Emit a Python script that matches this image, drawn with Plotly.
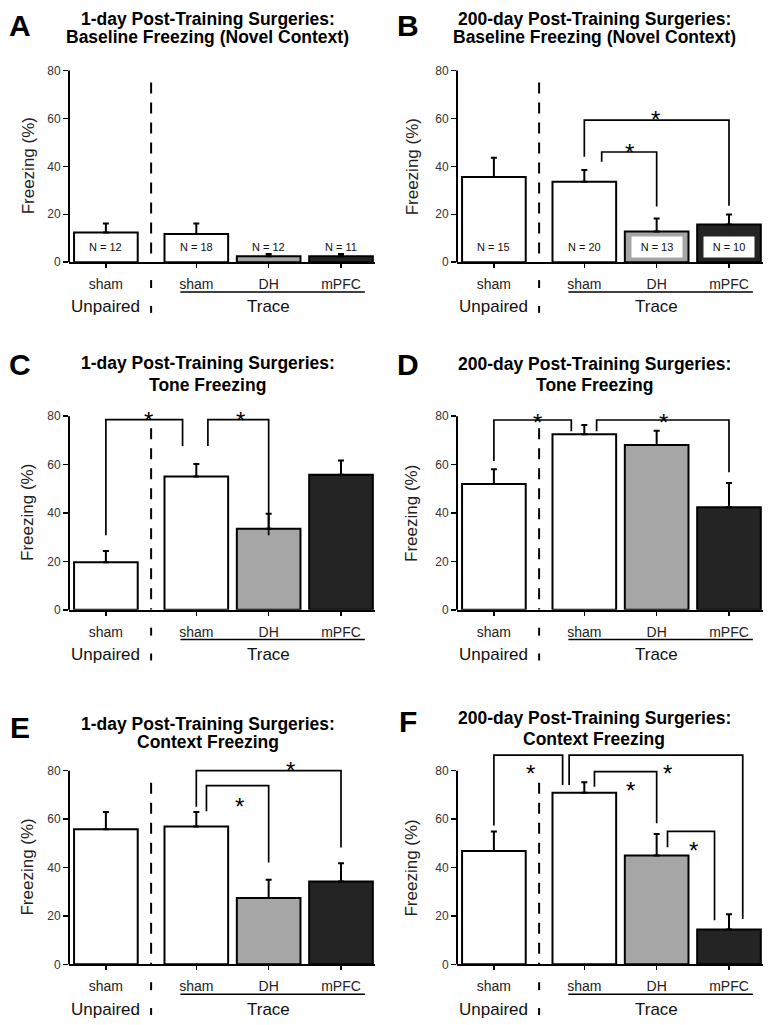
import plotly.graph_objects as go

# ---------------- data ----------------
groups = ["sham", "sham", "DH", "mPFC"]
xpos = [0, 1.25, 2.25, 3.25]
fills = ["white", "white", "#a6a6a6", "#242424"]

a_mean = [12.4, 11.8, 2.5, 2.5]
a_err = [3.8, 4.4, 0.9, 0.9]
a_n = ["N = 12", "N = 18", "N = 12", "N = 11"]

b_mean = [35.6, 33.6, 12.8, 15.7]
b_err = [8.0, 4.9, 5.4, 4.2]
b_n = ["N = 15", "N = 20", "N = 13", "N = 10"]

c_mean = [19.6, 55.1, 33.5, 55.8]
c_err = [4.7, 5.1, 6.2, 5.9]

d_mean = [52.0, 72.5, 68.1, 42.4]
d_err = [6.1, 3.8, 5.9, 10.0]

e_mean = [55.8, 56.9, 27.4, 34.2]
e_err = [7.1, 6.0, 7.6, 7.6]

f_mean = [46.8, 70.9, 45.0, 14.4]
f_err = [8.1, 4.3, 8.9, 6.3]

# significance brackets: (x_left, y_left_end, x_right, y_right_end, y_top, star_x, star_y)
b_sig = [(1.49, 41.9, 2.25, 23.2, 46.0, 1.88, 48.1),
         (1.25, 44.0, 3.25, 23.6, 59.3, 2.24, 62.2)]
c_sig = [(0.0, 30.8, 1.06, 67.7, 78.6, 0.59, 80.8),
         (1.41, 67.7, 2.25, 30.8, 78.6, 1.86, 80.8)]
d_sig = [(0.0, 61.5, 1.07, 73.8, 78.4, 0.60, 80.0),
         (1.42, 73.8, 3.25, 56.8, 78.4, 2.34, 80.0)]
e_sig = [(1.39, 63.3, 2.25, 42.1, 73.8, 1.85, 67.7),
         (1.25, 65.1, 3.25, 48.3, 80.0, 2.55, 82.7)]
f_sig = [(0.0, 57.4, 0.95, 74.1, 86.4, 0.50, 81.4),
         (1.04, 74.1, 3.44, 18.7, 86.4, 2.40, 81.4),
         (1.39, 73.4, 2.25, 58.3, 79.6, 1.89, 74.1),
         (2.40, 48.4, 3.05, 18.2, 54.9, 2.76, 49.4)]

letters = ["A", "B", "C", "D", "E", "F"]
title1 = ["1-day Post-Training Surgeries:", "200-day Post-Training Surgeries:"] * 3
title2 = ["Baseline Freezing (Novel Context)", "Baseline Freezing (Novel Context)",
          "Tone Freezing", "Tone Freezing", "Context Freezing", "Context Freezing"]
yticks = [0, 20, 40, 60, 80]

panels = [
    (a_mean, a_err, a_n, []),
    (b_mean, b_err, b_n, b_sig),
    (c_mean, c_err, None, c_sig),
    (d_mean, d_err, None, d_sig),
    (e_mean, e_err, None, e_sig),
    (f_mean, f_err, None, f_sig),
]

# ---------------- layout geometry (pixels) ----------------
W, H = 770, 1025
X0 = [69, 457]
X1 = [375, 763]
Y0 = [264, 614, 971]
Y80 = [71, 419, 776]
title_y1 = [[19, 19], [365, 366], [729, 723]]
title_y2 = [[37, 37], [388, 388], [747, 744]]
letter_y = [[26, 26], [367, 367], [732, 726]]
title_x = [208, 594]
letter_x = [20, 408]
ytitle_x = [28, 412]
XR = [-0.51, 3.72]
YMAX = 90
SEP = 0.625
FONT = "Liberation Sans, Arial, sans-serif"

fig = go.Figure()
shapes = []
annos = []


def pp(py):
    return 1 - py / H


for i, (mean, err, nlab, sig) in enumerate(panels):
    col, row = i % 2, i // 2
    sfx = "" if i == 0 else str(i + 1)
    xa, ya = "x" + sfx, "y" + sfx
    y0p, y80p = Y0[row], Y80[row]
    ytop = y0p - (y0p - y80p) * YMAX / 80.0

    fig.add_trace(go.Bar(
        x=xpos, y=mean, width=0.88, xaxis=xa, yaxis=ya,
        marker=dict(color=fills, line=dict(color="black", width=2)),
        error_y=dict(type="data", array=err, arrayminus=[0] * 4, symmetric=False,
                     color="black", thickness=2, width=3),
        showlegend=False, hoverinfo="skip",
    ))

    for (xl, yl, xr, yr, yt, sx, sy) in sig:
        fig.add_trace(go.Scatter(
            x=[xl, xl, xr, xr], y=[yl, yt, yt, yr], mode="lines",
            line=dict(color="black", width=1.7), xaxis=xa, yaxis=ya,
            showlegend=False, hoverinfo="skip", cliponaxis=False,
        ))
        annos.append(dict(x=sx, y=sy, xref=xa, yref=ya, text="*", showarrow=False,
                          xanchor="center", yanchor="middle", yshift=-6,
                          font=dict(family=FONT, size=24, color="black")))

    fig.layout["xaxis" + sfx] = dict(
        domain=[X0[col] / W, X1[col] / W], anchor=ya, range=XR,
        showline=True, linecolor="black", linewidth=2,
        ticks="outside", ticklen=4, tickwidth=1.5, tickcolor="black",
        tickvals=xpos, ticktext=groups, ticklabelstandoff=4,
        tickfont=dict(family=FONT, size=14, color="#222"),
        showgrid=False, zeroline=False, fixedrange=True,
    )
    fig.layout["yaxis" + sfx] = dict(
        domain=[pp(y0p), pp(ytop)], anchor=xa, range=[0, YMAX],
        showline=False, ticks="outside", ticklen=5, tickwidth=1.5, tickcolor="black",
        tickvals=yticks, tickfont=dict(family=FONT, size=12, color="#333"),
        showgrid=False, zeroline=False, fixedrange=True,
    )

    # y-axis line (0..80)
    shapes.append(dict(type="line", xref=xa + " domain", x0=0, x1=0, yref="paper",
                       y0=pp(y0p), y1=pp(y80p), line=dict(color="black", width=2)))
    # dashed separator
    shapes.append(dict(type="line", xref=xa, yref=ya, x0=SEP, x1=SEP, y0=75, y1=0,
                       line=dict(color="black", width=2, dash="11px,9px")))
    # separator ticks below axis
    for a, b in [(18, 26), (44, 51)]:
        shapes.append(dict(type="line", xref=xa, yref="paper", x0=SEP, x1=SEP,
                           y0=pp(y0p + a), y1=pp(y0p + b),
                           line=dict(color="black", width=2)))
    # Trace underline
    shapes.append(dict(type="line", xref=xa, yref="paper", x0=1.03, x1=3.58,
                       y0=pp(y0p + 30), y1=pp(y0p + 30), line=dict(color="black", width=1.5)))
    for lx, lt in [(0, "Unpaired"), (2.25, "Trace")]:
        annos.append(dict(x=lx, y=pp(y0p + 45), xref=xa, yref="paper", text=lt,
                          showarrow=False, xanchor="center", yanchor="middle",
                          font=dict(family=FONT, size=17, color="#111")))
    # y title
    annos.append(dict(x=ytitle_x[col] / W, y=40, xref="paper", yref=ya, text="Freezing (%)",
                      textangle=-90, showarrow=False, xanchor="center", yanchor="middle",
                      font=dict(family=FONT, size=17, color="#222")))
    # titles and letters
    annos.append(dict(x=title_x[col] / W, y=pp(title_y1[row][col]), xref="paper", yref="paper",
                      text="<b>" + title1[i] + "</b>", showarrow=False,
                      xanchor="center", yanchor="middle",
                      font=dict(family=FONT, size=17.5, color="black")))
    annos.append(dict(x=title_x[col] / W, y=pp(title_y2[row][col]), xref="paper", yref="paper",
                      text="<b>" + title2[i] + "</b>", showarrow=False,
                      xanchor="center", yanchor="middle",
                      font=dict(family=FONT, size=17.5, color="black")))
    annos.append(dict(x=letter_x[col] / W, y=pp(letter_y[row][col]), xref="paper", yref="paper",
                      text="<b>" + letters[i] + "</b>", showarrow=False,
                      xanchor="center", yanchor="middle",
                      font=dict(family=FONT, size=30, color="black")))

    # N labels
    if nlab:
        for xv, mv, lab, fc in zip(xpos, mean, nlab, fills):
            boxed = fc != "white" and mv > 10
            a = dict(x=xv, y=6.4, xref=xa, yref=ya, text=lab, showarrow=False,
                     xanchor="center", yanchor="middle",
                     font=dict(family=FONT, size=11, color="#111"))
            if boxed:
                a.update(bgcolor="white", width=48, height=18)
            annos.append(a)

fig.update_layout(
    width=W, height=H, margin=dict(l=0, r=0, t=0, b=0),
    paper_bgcolor="white", plot_bgcolor="rgba(0,0,0,0)",
    shapes=shapes, annotations=annos, bargap=0, showlegend=False,
    font=dict(family=FONT),
)
fig.write_html(
    "out.html",
    config={"displayModeBar": False, "staticPlot": True},
    post_script=("document.documentElement.style.margin='0';"
                 "document.body.style.margin='0';"
                 "document.body.style.lineHeight='0';"
                 "document.body.style.overflow='hidden';"
                 "document.querySelectorAll('.svg-container').forEach(function(e){e.style.display='block';});"),
)
